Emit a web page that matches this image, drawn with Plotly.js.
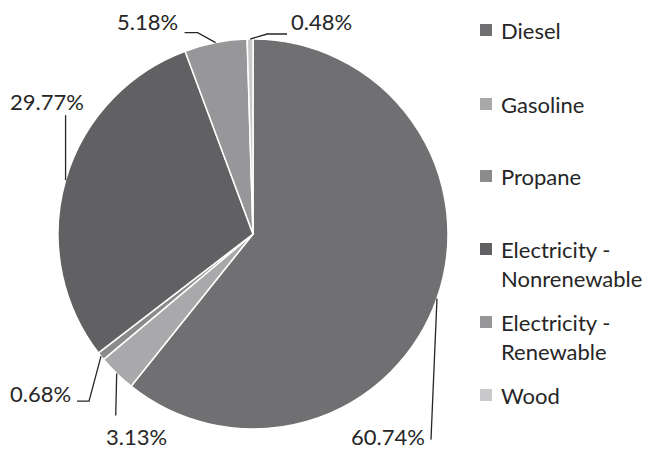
<!DOCTYPE html>
<html>
<head>
<meta charset="utf-8">
<script src="https://cdn.plot.ly/plotly-3.0.1.min.js"></script>
<style>html,body{margin:0;padding:0;background:#fff}#chart{width:652px;height:449px}</style>
</head>
<body>
<div id="chart"></div>
<script>
// ---- data ----
const labels = ['Diesel', 'Gasoline', 'Propane', 'Electricity - Nonrenewable', 'Electricity - Renewable', 'Wood'];
const legendLabels = ['Diesel', 'Gasoline', 'Propane', 'Electricity -<br>Nonrenewable', 'Electricity -<br>Renewable', 'Wood'];
const values = [60.74, 3.13, 0.68, 29.77, 5.18, 0.48];

// ---- styles ----
const colors = ['#707073', '#a9a9ab', '#8b8b8e', '#616164', '#97979a', '#c9c9cb'];
const W = 652, H = 449;
const FONT = 'Lato, "Liberation Sans", sans-serif';
const FS = 22;
const TXT = '#262626';
const pieDomPx = {x0: 58, x1: 448, y0: 39, y1: 429};   // pixel box of the pie
// leader-line bends and label offsets (pixels, relative to slice-edge midpoint)
const leaderBends = [
  [[-6, 141]],
  [[-1, 42]],
  [[-12, 45], [-24, 45]],
  [[0, -65]],
  [[-18, -10], [-31, -10]],
  [[17, -5], [37, -5]]
];
const labelOffsets = [
  {dx: -10, dy: 138, anchor: 'right'},
  {dx: 20, dy: 63, anchor: 'center'},
  {dx: -28, dy: 37, anchor: 'right'},
  {dx: -19, dy: -78.5, anchor: 'center'},
  {dx: -36, dy: -21.5, anchor: 'right'},
  {dx: 39, dy: -18, anchor: 'left'}
];
const legendRowY = [30, 104, 176, 249, 322, 395];
const legendSq = {x: 480, size: 12};
const legendTextX = 499;

const px2x = p => p / W;
const py2y = p => 1 - p / H;

const trace = {
  type: 'pie',
  labels: labels,
  values: values,
  sort: false,
  direction: 'clockwise',
  rotation: 0,
  marker: {colors: colors, line: {color: '#ffffff', width: 1.5}},
  textinfo: 'none',
  hoverinfo: 'label+percent',
  showlegend: false,
  domain: {x: [px2x(pieDomPx.x0), px2x(pieDomPx.x1)], y: [py2y(pieDomPx.y1), py2y(pieDomPx.y0)]}
};

// geometry for labels derived from the data
const cx = (pieDomPx.x0 + pieDomPx.x1) / 2;
const cy = (pieDomPx.y0 + pieDomPx.y1) / 2;
const R = Math.min(pieDomPx.x1 - pieDomPx.x0, pieDomPx.y1 - pieDomPx.y0) / 2;
const total = values.reduce((a, b) => a + b, 0);

const shapes = [];
const annotations = [];
let cum = 0;
values.forEach((v, i) => {
  const mid = (cum + v / 2) / total * 2 * Math.PI;
  cum += v;
  const ex = cx + R * Math.sin(mid);
  const ey = cy - R * Math.cos(mid);
  let path = 'M ' + px2x(ex) + ',' + py2y(ey);
  leaderBends[i].forEach(b => {
    path += ' L ' + px2x(ex + b[0]) + ',' + py2y(ey + b[1]);
  });
  shapes.push({type: 'path', xref: 'paper', yref: 'paper', path: path,
               line: {color: TXT, width: 1.3}});
  const o = labelOffsets[i];
  annotations.push({
    xref: 'paper', yref: 'paper', showarrow: false,
    x: px2x(ex + o.dx), y: py2y(ey + o.dy),
    xanchor: o.anchor, yanchor: 'middle',
    text: v.toFixed(2) + '%',
    font: {family: FONT, size: FS, color: TXT}
  });
});

// legend (manual, to match the fixed slot spacing)
legendLabels.forEach((t, i) => {
  const yc = legendRowY[i];
  shapes.push({type: 'rect', xref: 'paper', yref: 'paper',
    x0: px2x(legendSq.x), x1: px2x(legendSq.x + legendSq.size),
    y0: py2y(yc + legendSq.size / 2), y1: py2y(yc - legendSq.size / 2),
    fillcolor: colors[i], line: {width: 0}});
  annotations.push({
    xref: 'paper', yref: 'paper', showarrow: false,
    x: px2x(legendTextX), y: py2y(yc - 15),
    xanchor: 'left', yanchor: 'top', align: 'left',
    text: t,
    font: {family: FONT, size: FS, color: TXT}
  });
});

const layout = {
  width: W, height: H,
  margin: {l: 0, r: 0, t: 0, b: 0},
  paper_bgcolor: '#ffffff',
  showlegend: false,
  shapes: shapes,
  annotations: annotations
};

Plotly.newPlot('chart', [trace], layout, {displayModeBar: false, staticPlot: true});
</script>
</body>
</html>
